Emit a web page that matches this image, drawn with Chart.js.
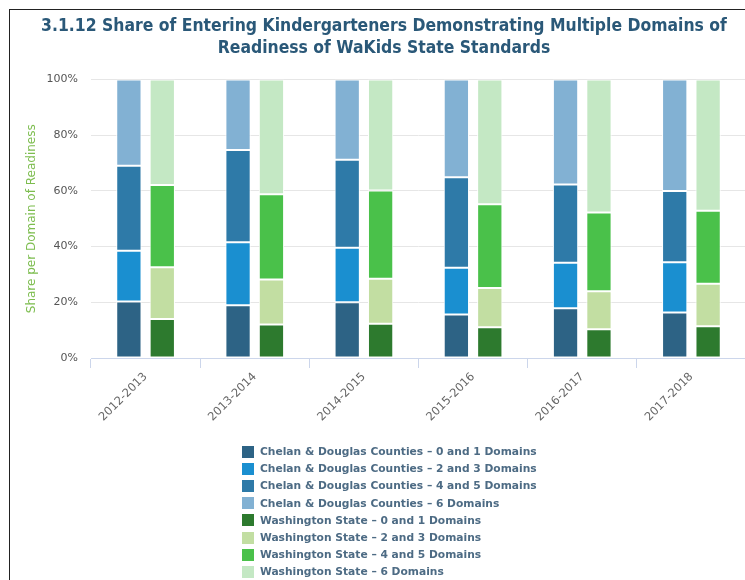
<!DOCTYPE html>
<html>
<head>
<meta charset="utf-8">
<title>3.1.12 Share of Entering Kindergarteners</title>
<script src="https://cdn.jsdelivr.net/npm/chart.js@4.4.1/dist/chart.umd.min.js"></script>
<style>
  html, body { margin: 0; padding: 0; background: #fff; overflow: hidden; }
  #frame { position: absolute; left: 9px; top: 9px; width: 800px; height: 600px;
           border-left: 1px solid #222; border-top: 1px solid #222; }
  #c { position: absolute; left: 10px; top: 10px; }
</style>
</head>
<body>
<div id="frame"></div>
<canvas id="c" width="751" height="570"></canvas>
<script>
// --- Data (percent of entering kindergarteners) ---
const years = ['2012-2013', '2013-2014', '2014-2015', '2015-2016', '2016-2017', '2017-2018'];

const chelan01 = [20.3, 18.9, 20.0, 15.6, 17.9, 16.3];
const chelan23 = [18.2, 22.7, 19.6, 16.8, 16.3, 18.1];
const chelan45 = [30.5, 33.1, 31.6, 32.5, 28.1, 25.6];
const chelan6  = [31.0, 25.3, 28.8, 35.1, 37.7, 40.0];

const wa01 = [14.0, 12.0, 12.3, 11.0, 10.3, 11.4];
const wa23 = [18.6, 16.2, 16.2, 14.1, 13.7, 15.3];
const wa45 = [29.5, 30.6, 31.6, 30.1, 28.2, 26.2];
const wa6  = [37.9, 41.2, 39.9, 44.8, 47.8, 47.1];

const yTicks = [0, 20, 40, 60, 80, 100];

const titleLines = [
  '3.1.12 Share of Entering Kindergarteners Demonstrating Multiple Domains of',
  'Readiness of WaKids State Standards'
];

(function () {
  const FONT = "'DejaVu Sans', sans-serif";

  function ds(label, data, color, stack) {
    return {
      label, data, stack,
      backgroundColor: color,
      borderColor: '#ffffff',
      borderWidth: 1,
      borderSkipped: false,
      categoryPercentage: 0.612,
      barPercentage: 0.757
    };
  }

  const datasets = [
    ds('Chelan & Douglas Counties \u2013 0 and 1 Domains', chelan01, '#2d6385', 'chelan'),
    ds('Chelan & Douglas Counties \u2013 2 and 3 Domains', chelan23, '#1a8fd0', 'chelan'),
    ds('Chelan & Douglas Counties \u2013 4 and 5 Domains', chelan45, '#2e7aa8', 'chelan'),
    ds('Chelan & Douglas Counties \u2013 6 Domains', chelan6, '#82b1d3', 'chelan'),
    ds('Washington State \u2013 0 and 1 Domains', wa01, '#2d7a2e', 'wa'),
    ds('Washington State \u2013 2 and 3 Domains', wa23, '#c2dea2', 'wa'),
    ds('Washington State \u2013 4 and 5 Domains', wa45, '#4ac14a', 'wa'),
    ds('Washington State \u2013 6 Domains', wa6, '#c4e8c4', 'wa')
  ];

  // one legend item per row, drawn under the axis
  const listLegend = {
    id: 'listLegend',
    afterDraw(chart) {
      const ctx = chart.ctx;
      const sets = chart.data.datasets;
      ctx.save();
      ctx.font = 'bold 10.7px ' + FONT;
      let maxW = 0;
      sets.forEach(d => { maxW = Math.max(maxW, ctx.measureText(d.label).width); });
      const box = 12, gap = 6;
      const left = Math.round(chart.width / 2 + 4 - (box + gap + maxW) / 2);
      const top = chart.chartArea.bottom + 94;
      ctx.textBaseline = 'middle';
      sets.forEach((d, i) => {
        const y = top + i * 17.1;
        ctx.fillStyle = d.backgroundColor;
        ctx.fillRect(left, Math.round(y - box / 2), box, box);
        ctx.fillStyle = '#4d6b84';
        ctx.fillText(d.label, left + box + gap, y + 0.5);
      });
      ctx.restore();
    }
  };

  new Chart(document.getElementById('c'), {
    type: 'bar',
    data: { labels: years, datasets },
    plugins: [listLegend],
    options: {
      responsive: false,
      animation: false,
      layout: { padding: { left: 12, right: 15, top: 0, bottom: 142 } },
      plugins: {
        legend: { display: false },
        tooltip: { enabled: false },
        title: {
          display: true,
          text: titleLines,
          color: '#2a5878',
          font: { family: "'DejaVu Sans Condensed', 'DejaVu Sans', sans-serif", size: 17.4, weight: 'bold', lineHeight: 1.25 },
          padding: { top: 6, bottom: 20 }
        }
      },
      scales: {
        x: {
          stacked: true,
          grid: { display: true, drawOnChartArea: false, drawTicks: true, tickLength: 10, color: '#ccd6eb', offset: true },
          border: { display: true, color: '#ccd6eb' },
          ticks: {
            color: '#666666',
            font: { family: FONT, size: 11.5 },
            maxRotation: 45, minRotation: 45,
            padding: 2
          },
          afterFit(scale) { scale.height = 80; }
        },
        y: {
          stacked: true,
          min: 0, max: 100,
          afterBuildTicks(scale) { scale.ticks = yTicks.map(v => ({ value: v })); },
          grid: { color: '#e6e6e6', drawTicks: false },
          border: { display: false },
          ticks: {
            color: '#555555',
            font: { family: FONT, size: 11 },
            padding: 13,
            callback: v => v + '%'
          },
          title: {
            display: true,
            text: 'Share per Domain of Readiness',
            color: '#7dbd4f',
            font: { family: FONT, size: 12 },
            padding: { top: 3, bottom: 0 }
          },
          afterFit(scale) { scale.width = 69; }
        }
      }
    }
  });
})();
</script>
</body>
</html>
